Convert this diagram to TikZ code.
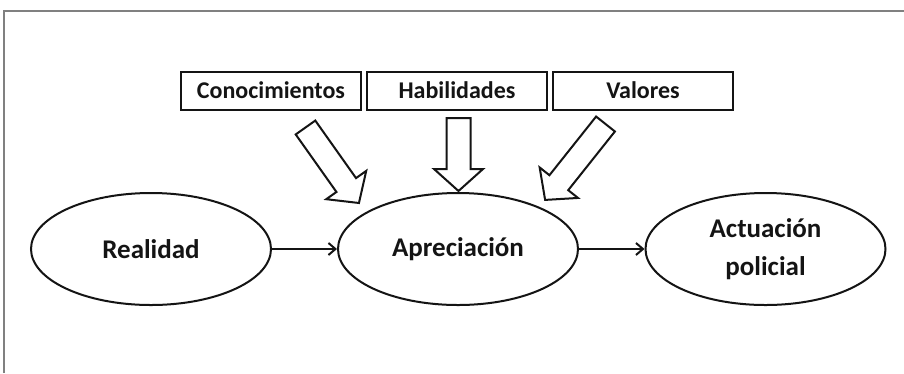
\documentclass[tikz,border=0pt]{standalone}
\usepackage{fontspec}
\setmainfont{Carlito}
\usetikzlibrary{arrows.meta,shapes.geometric}
\definecolor{framegray}{RGB}{128,128,128}
\definecolor{ink}{RGB}{20,20,20}
\tikzset{
  box/.style={draw=ink, line width=2pt, rectangle, minimum width=180pt, minimum height=38pt, inner sep=0pt,
    font=\fontsize{24}{28}\selectfont\bfseries, text=ink},
  oval/.style={draw=ink, line width=2pt, ellipse, minimum width=240pt, minimum height=112pt, inner sep=0pt,
    font=\fontsize{27}{38}\selectfont\bfseries, text=ink, align=center},
  conn/.style={draw=ink, line width=2pt, -{Straight Barb[length=7pt,width=12pt,line width=2pt]}},
  blkline/.style={draw=ink, line width=2pt, fill=white, line join=miter},
  pics/blkarrow/.style={code={
    \draw[blkline] (0,-12) -- ({#1-22},-12) -- ({#1-22},-24.5) -- (#1,0) -- ({#1-22},24.5) -- ({#1-22},12) -- (0,12) -- cycle;
  }}
}
\begin{document}
\begin{tikzpicture}[x=1pt,y=-1pt]
\useasboundingbox (0,0) rectangle (904,373);
\fill[white] (0,0) rectangle (904,373);
% frame
\coordinate (fa) at (4,373);
\coordinate (fb) at (4,11);
\coordinate (fc) at (904,11);
\draw[framegray, line width=1.5pt] (fa) -- (fb) -- (fc);
% boxes
\node[box] (con) at (271,90.5) {Conocimientos};
\node[box] (hab) at (457,90.5) {Habilidades};
\node[box] (val) at (643,90.5) {Valores};
% ellipses
\node[oval] (rea) at (151,249) {Realidad};
\node[oval] (apr) at (458,249) {Apreciación};
\node[oval] (act) at (765.5,249) {Actuación\\policial};
% connectors
\draw[conn] (rea.east) -- (apr.west);
\draw[conn] (apr.east) -- (act.west);
% block arrows
\pic[rotate=-54.7] at (305.5,127.5) {blkarrow=92.5};
\pic[rotate=-90] at (458.5,118) {blkarrow=73};
\pic[rotate=-128.5] at (605.5,124) {blkarrow=97};
\end{tikzpicture}
\end{document}
